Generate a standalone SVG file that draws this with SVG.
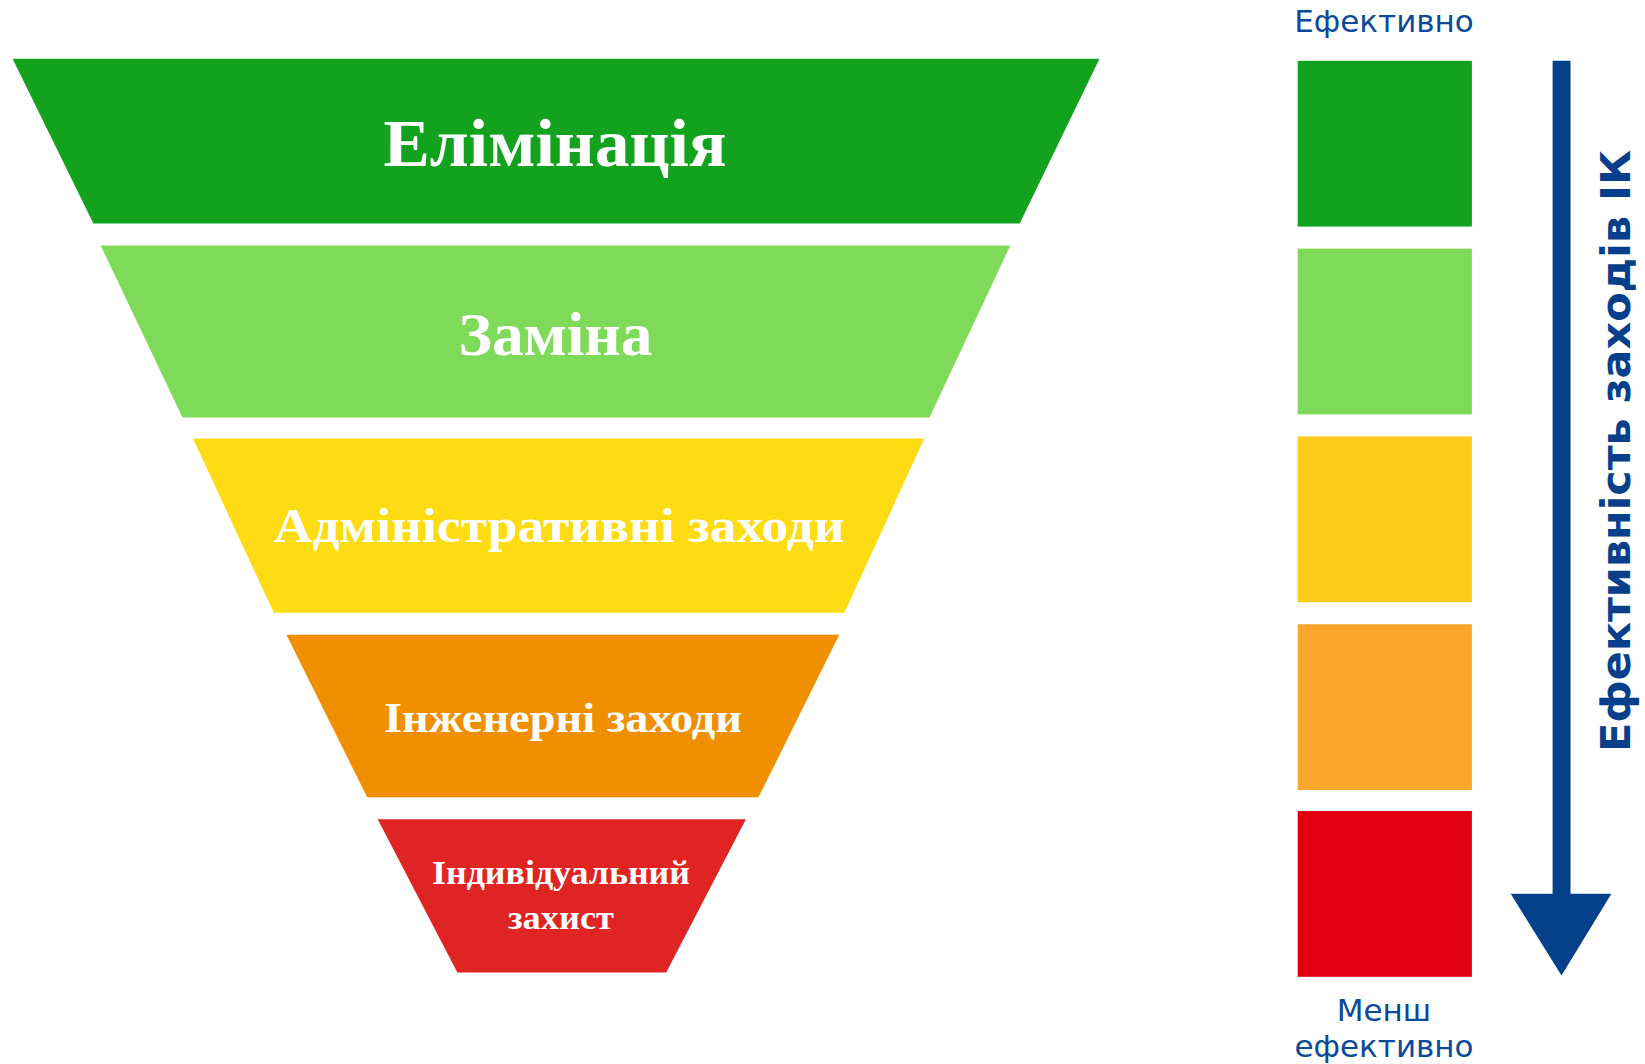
<svg xmlns="http://www.w3.org/2000/svg" width="1645" height="1064" viewBox="0 0 1645 1064">
<style>
.ft{font-family:"Liberation Serif","DejaVu Serif",serif;font-weight:bold;fill:#ffffff;text-anchor:middle}
.lb{font-family:"DejaVu Sans","Liberation Sans",sans-serif;fill:#0a4a9a;text-anchor:middle}
.vt{font-family:"DejaVu Sans","Liberation Sans",sans-serif;font-weight:bold;fill:#073f8a;text-anchor:middle}
</style>
<rect width="1645" height="1064" fill="#ffffff"/>
<g id="funnel-elimination">
<polygon points="12.6,58.7 1099.5,58.7 1019.7,223.5 93.4,223.5" fill="#12A21E"/>
<text class="ft" x="555" y="165.8" font-size="68" textLength="343" lengthAdjust="spacingAndGlyphs">Елімінація</text>
</g>
<g id="funnel-substitution">
<polygon points="100.7,245.5 1010.3,245.5 929.5,417.5 182.5,417.5" fill="#80DA5A"/>
<text class="ft" x="555.5" y="354.6" font-size="62" textLength="194" lengthAdjust="spacingAndGlyphs">Заміна</text>
</g>
<g id="funnel-admin">
<polygon points="193,438.5 924.3,438.5 844.5,612.7 273.8,612.7" fill="#FDDC14"/>
<text class="ft" x="559" y="542.4" font-size="48" textLength="571" lengthAdjust="spacingAndGlyphs">Адміністративні заходи</text>
</g>
<g id="funnel-engineering">
<polygon points="286.4,634.7 839.3,634.7 758.5,797.3 367.2,797.3" fill="#F09000"/>
<text class="ft" x="563" y="732.3" font-size="42" textLength="358" lengthAdjust="spacingAndGlyphs">Інженерні заходи</text>
</g>
<g id="funnel-ppe">
<polygon points="377.7,819.3 745.9,819.3 666.2,972.5 457.4,972.5" fill="#E02424"/>
<text class="ft" x="561" y="884.4" font-size="33" textLength="258" lengthAdjust="spacingAndGlyphs">Індивідуальний</text>
<text class="ft" x="561" y="928.5" font-size="33" textLength="106" lengthAdjust="spacingAndGlyphs">захист</text>
</g>
<g id="scale">
<text class="lb" x="1384" y="31.5" font-size="31">Ефективно</text>
<rect x="1297.7" y="60.8" width="174.2" height="165.8" fill="#12A21E"/>
<rect x="1297.7" y="248.6" width="174.2" height="165.8" fill="#80DA5A"/>
<rect x="1297.7" y="436.4" width="174.2" height="165.8" fill="#FDCB1A"/>
<rect x="1297.7" y="624.2" width="174.2" height="165.8" fill="#F8A72A"/>
<rect x="1297.7" y="811" width="174.2" height="165.8" fill="#E1000F"/>
<text class="lb" x="1384" y="1020.8" font-size="31">Менш</text>
<text class="lb" x="1384" y="1056.5" font-size="31">ефективно</text>
</g>
<g id="connectors">
<polygon points="1552.6,60.8 1570.5,60.8 1570.5,893.8 1611.4,893.8 1561.5,975.6 1510.7,893.8 1552.6,893.8" fill="#07408A"/>
</g>
<g id="axis-label">
<text class="vt" transform="translate(1630,451) rotate(-90)" font-size="40" textLength="602" lengthAdjust="spacingAndGlyphs">Ефективність заходів ІК</text>
</g>
</svg>
